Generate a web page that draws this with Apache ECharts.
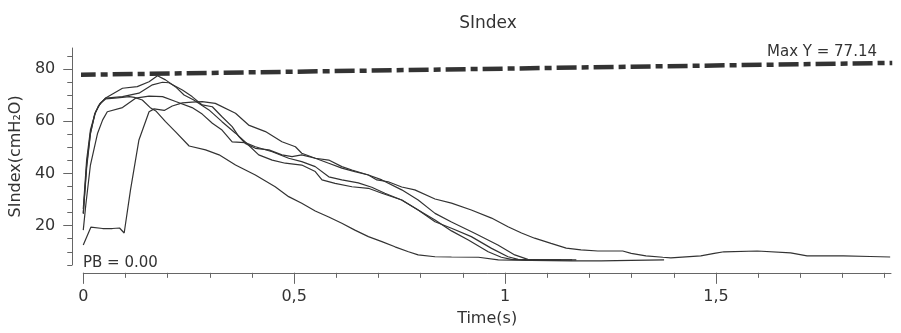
<!DOCTYPE html>
<html>
<head>
<meta charset="utf-8">
<script src="https://cdn.jsdelivr.net/npm/echarts@6/dist/echarts.min.js"></script>
<style>
html,body{margin:0;padding:0;background:#fff;}
#chart{width:901px;height:333px;}
</style>
</head>
<body>
<div id="chart"></div>
<script>
// ---- Data (time in s, SIndex in cmH2O) ----
const curveA = [[0,12.6],[0.018,19.4],[0.046,18.9],[0.069,18.9],[0.086,19.1],[0.097,17.2],[0.112,33.7],[0.132,52.8],[0.156,63.6],[0.168,64.7],[0.192,64.1],[0.211,65.8],[0.235,67.0],[0.258,67.3],[0.282,67.5],[0.313,66.8],[0.361,63.0],[0.392,58.5],[0.432,56.0],[0.471,52.1],[0.503,50.2],[0.518,47.7],[0.550,45.8],[0.582,43.9],[0.613,42.0],[0.644,40.7],[0.676,39.4],[0.696,37.5],[0.723,36.8],[0.755,34.8],[0.786,33.7],[0.834,30.2],[0.873,28.6],[0.920,26.0],[0.968,22.9],[1.007,19.6],[1.039,17.2],[1.070,15.2],[1.109,13.2],[1.145,11.4],[1.180,10.7],[1.220,10.3],[1.279,10.3],[1.299,9.4],[1.334,8.4],[1.374,7.9],[1.393,7.7],[1.464,8.4],[1.496,9.4],[1.519,10.0],[1.598,10.3],[1.677,9.6],[1.716,8.4],[1.802,8.4],[1.866,8.2],[1.913,8.0]];
const curveB = [[0,26.4],[0.008,45.1],[0.017,56.6],[0.027,62.4],[0.036,65.8],[0.053,68.9],[0.093,72.6],[0.128,73.2],[0.156,75.1],[0.176,77.4],[0.195,75.8],[0.219,73.1],[0.239,70.0],[0.262,68.1],[0.298,64.3],[0.329,59.8],[0.361,55.4],[0.384,52.0],[0.416,47.1],[0.448,45.1],[0.479,43.9],[0.518,43.2],[0.550,40.7],[0.566,37.5],[0.597,36.2],[0.637,34.9],[0.676,34.3],[0.708,32.4],[0.755,29.8],[0.794,26.0],[0.834,21.5],[0.873,19.0],[0.920,15.8],[0.968,11.3],[1.007,8.1],[1.031,7.1],[1.062,6.9],[1.159,6.9]];
const curveC = [[0,24.8],[0.008,43.2],[0.017,55.5],[0.029,63.5],[0.041,67.0],[0.053,68.8],[0.093,69.4],[0.132,70.7],[0.164,73.9],[0.188,74.9],[0.203,74.7],[0.235,71.9],[0.258,69.4],[0.282,66.2],[0.306,65.5],[0.329,61.7],[0.353,57.9],[0.369,54.1],[0.384,51.5],[0.408,49.6],[0.440,49.0],[0.471,47.1],[0.495,46.4],[0.518,47.1],[0.550,45.8],[0.582,45.1],[0.613,42.6],[0.637,41.3],[0.676,39.4],[0.708,37.5],[0.755,33.7],[0.794,29.8],[0.834,24.7],[0.873,21.4],[0.928,17.1],[0.983,12.6],[1.023,8.8],[1.054,7.1],[1.086,6.9],[1.169,6.9]];
const curveD = [[0,18.3],[0.006,27.9],[0.017,43.2],[0.034,55.4],[0.046,60.5],[0.057,63.6],[0.093,65.2],[0.124,68.8],[0.156,69.6],[0.188,69.4],[0.219,67.5],[0.258,65.2],[0.282,62.7],[0.306,59.2],[0.329,56.6],[0.353,52.1],[0.384,51.8],[0.408,50.2],[0.448,48.3],[0.487,45.8],[0.518,44.5],[0.550,42.6],[0.582,38.7],[0.613,37.5],[0.652,36.4],[0.684,34.7],[0.715,32.4],[0.755,29.8],[0.794,26.0],[0.834,22.2],[0.873,18.0],[0.913,14.5],[0.960,10.0],[0.991,7.9],[1.015,7.1],[1.050,6.9],[1.133,6.9]];
const curveE = [[0,24.5],[0.008,42.1],[0.017,55.1],[0.027,62.7],[0.039,66.6],[0.053,68.5],[0.081,68.9],[0.109,69.4],[0.121,69.1],[0.140,68.1],[0.160,65.0],[0.172,63.9],[0.195,59.8],[0.219,55.9],[0.251,50.5],[0.290,49.0],[0.322,47.1],[0.361,43.2],[0.408,39.4],[0.455,34.9],[0.487,31.1],[0.518,28.6],[0.550,25.6],[0.582,23.3],[0.613,20.9],[0.644,18.3],[0.676,15.8],[0.708,13.9],[0.739,11.9],[0.771,10.0],[0.794,8.8],[0.834,8.1],[0.873,8.0],[0.937,7.9],[0.984,6.9],[1.062,6.7],[1.157,6.5],[1.228,6.5],[1.299,6.7],[1.377,6.9]];
const maxLine = [[-0.018,77.7],[1.918,82.3]];

const xTickValues = [0,0.1,0.2,0.3,0.4,0.5,0.6,0.7,0.8,0.9,1,1.1,1.2,1.3,1.4,1.5,1.6,1.7,1.8,1.9];
const xLabelValues = [0,0.5,1,1.5];
const yTickValues = [5,10,15,20,25,30,35,40,45,50,55,60,65,70,75,80,85];
const yLabelValues = [20,40,60,80];

const titleText = 'SIndex';
const xName = 'Time(s)';
const yName = 'SIndex(cmH₂O)';
const maxText = 'Max Y = 77.14';
const pbText = 'PB = 0.00';

// ---- Chart ----
const FONT = '"DejaVu Sans", sans-serif';
const TXT = '#333';
const AX = '#666';
const LINE = '#333';

const chart = echarts.init(document.getElementById('chart'), null, {renderer: 'canvas'});

const curves = [curveA, curveB, curveC, curveD, curveE];
const series = curves.map(c => ({
  type: 'line',
  data: c,
  showSymbol: false,
  symbol: 'none',
  smooth: false,
  lineStyle: {color: LINE, width: 1.2},
  z: 3
}));
series.push({
  type: 'line',
  data: maxLine,
  showSymbol: false,
  symbol: 'none',
  clip: false,
  lineStyle: {color: '#333', width: 4.5, type: [20, 5, 7, 5], cap: 'butt'},
  z: 4
});

const option = {
  animation: false,
  backgroundColor: '#fff',
  title: {
    text: titleText, left: 483, top: 10, textAlign: 'center',
    textStyle: {fontFamily: FONT, fontSize: 17, fontWeight: 'normal', color: TXT}
  },
  grid: {left: 80.7, right: 10, top: 48, bottom: 68.16, containLabel: false},
  xAxis: [
    {
      type: 'value', min: 0, max: 1.915, position: 'bottom', offset: 8,
      name: xName, nameLocation: 'middle', nameGap: 38,
      nameTextStyle: {fontFamily: FONT, fontSize: 16, color: TXT},
      axisLine: {show: true, onZero: false, lineStyle: {color: AX, width: 1}},
      axisTick: {show: true, customValues: xTickValues, length: 5, lineStyle: {color: AX, width: 1}},
      axisLabel: {show: true, customValues: xLabelValues, margin: 16, fontFamily: FONT, fontSize: 16, color: TXT,
        formatter: v => String(v).replace('.', ',')},
      splitLine: {show: false}
    },
    {
      type: 'value', min: 0, max: 1.915, position: 'bottom', offset: 8,
      axisLine: {show: false, onZero: false},
      axisTick: {show: true, customValues: xLabelValues, length: 11, lineStyle: {color: AX, width: 1}},
      axisLabel: {show: false},
      splitLine: {show: false}
    }
  ],
  yAxis: [
    {
      type: 'value', min: 5, max: 88, position: 'left', offset: 11,
      name: yName, nameLocation: 'middle', nameGap: 44,
      nameTextStyle: {fontFamily: FONT, fontSize: 16, color: TXT},
      axisLine: {show: true, onZero: false, lineStyle: {color: AX, width: 1}},
      axisTick: {show: true, customValues: yTickValues, length: 5, lineStyle: {color: AX, width: 1}},
      axisLabel: {show: true, customValues: yLabelValues, margin: 17, fontFamily: FONT, fontSize: 16, color: TXT},
      splitLine: {show: false}
    },
    {
      type: 'value', min: 5, max: 88, position: 'left', offset: 11,
      axisLine: {show: false, onZero: false},
      axisTick: {show: true, customValues: yLabelValues, length: 9, lineStyle: {color: AX, width: 1}},
      axisLabel: {show: false},
      splitLine: {show: false}
    }
  ],
  graphic: [
    {type: 'text', x: 767, y: 52, z: 10,
      style: {text: maxText, fontFamily: '"DejaVu Sans"', fontSize: 15, fill: TXT, align: 'left', verticalAlign: 'middle'}},
    {type: 'text', x: 83, y: 263.3, z: 10,
      style: {text: pbText, fontFamily: '"DejaVu Sans"', fontSize: 15, fill: TXT, align: 'left', verticalAlign: 'middle'}}
  ],
  series: series
};
chart.setOption(option);
</script>
</body>
</html>
